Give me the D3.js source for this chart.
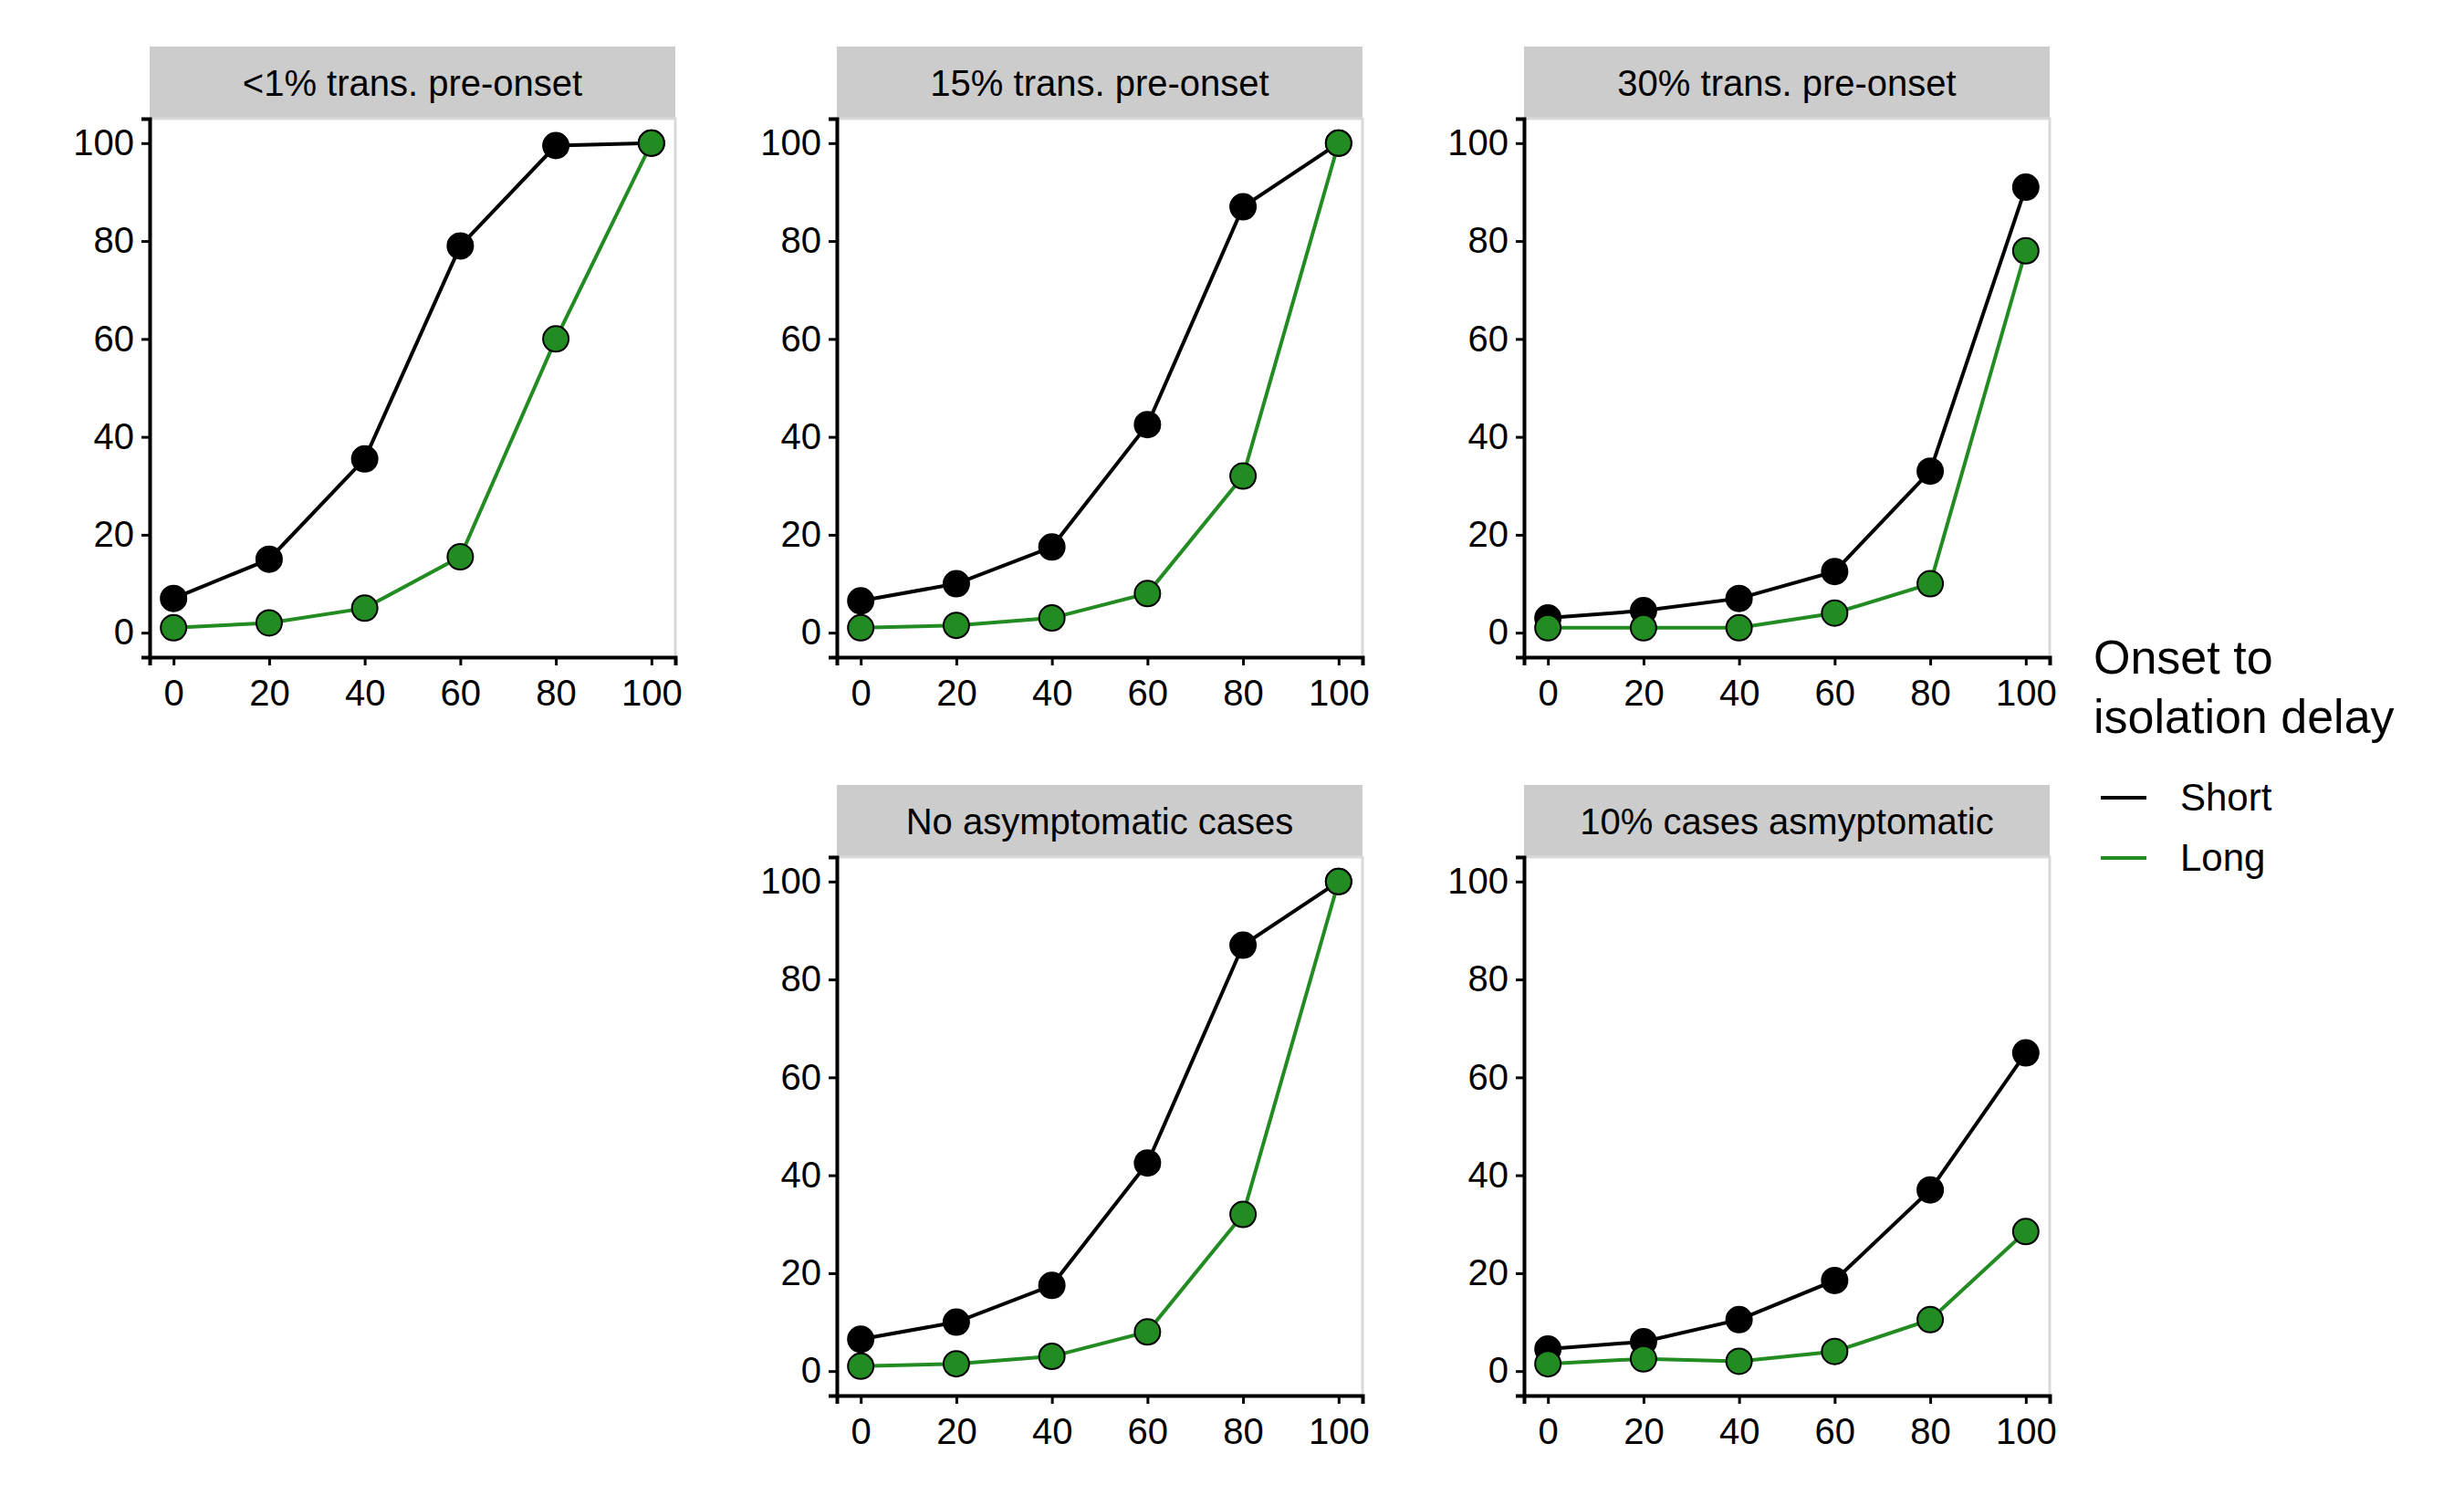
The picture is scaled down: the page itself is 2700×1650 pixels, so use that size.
<!DOCTYPE html><html><head><meta charset="utf-8"><script src="https://cdn.jsdelivr.net/npm/d3@7"></script>
<style>body{margin:0;background:#fff}text{font-family:"Liberation Sans",Arial,sans-serif}</style></head><body>
<svg id="c" width="2700" height="1650"></svg>
<script>
const xVals=[0,20,40,60,80,100];
const ticks=[0,20,40,60,80,100];
const titles=["<1% trans. pre-onset","15% trans. pre-onset","30% trans. pre-onset","No asymptomatic cases","10% cases asmyptomatic"];
const shortVals=[[7,15,35.5,79,99.5,100],[6.5,10,17.5,42.5,87,100],[3,4.5,7,12.5,33,91],[6.5,10,17.5,42.5,87,100],[4.5,6,10.5,18.5,37,65]];
const longVals=[[1,2,5,15.5,60,100],[1,1.5,3,8,32,100],[1,1,1,4,10,78],[1,1.5,3,8,32,100],[1.5,2.5,2,4,10.5,28.5]];
const series=[{name:"Short",color:"#000000",vals:shortVals},{name:"Long",color:"#228B22",vals:longVals}];
const pos=[[164,51],[917,51],[1670,51],[917,860],[1670,860]];
const W=576,SH=79,PH=590;
const svg=d3.select("#c");
titles.forEach((t,i)=>{
  const [px,py]=pos[i];
  const g=svg.append("g").attr("transform",`translate(${px},${py})`);
  g.append("rect").attr("width",W).attr("height",SH).attr("fill","#cccccc");
  g.append("text").attr("x",W/2).attr("y",SH/2+14).attr("text-anchor","middle").attr("font-size",40).text(t);
  const p=g.append("g").attr("transform",`translate(0,${SH})`);
  const x=d3.scaleLinear().domain([-5,105]).range([0,W]);
  const y=d3.scaleLinear().domain([-5,105]).range([PH,0]);
  p.append("rect").attr("width",W).attr("height",PH).attr("fill","#fff").attr("stroke","#d9d9d9").attr("stroke-width",3);
  const ax=p.append("g").attr("transform",`translate(0,${PH})`).call(d3.axisBottom(x).tickValues(ticks).tickSize(9).tickPadding(8));
  const ay=p.append("g").call(d3.axisLeft(y).tickValues(ticks).tickSize(9).tickPadding(8));
  [ax,ay].forEach(a=>{a.selectAll("path").attr("stroke","#000").attr("stroke-width",4);a.selectAll("line").attr("stroke","#000").attr("stroke-width",3);a.selectAll("text").attr("font-size",40).attr("fill","#000").style("font-family","Liberation Sans, Arial, sans-serif");});
  ax.selectAll("text").attr("dy","0.9em");
  series.forEach(s=>{
    const d=s.vals[i].map((v,j)=>[xVals[j],v]);
    p.append("path").datum(d).attr("fill","none").attr("stroke",s.color).attr("stroke-width",4)
      .attr("d",d3.line().x(a=>x(a[0])).y(a=>y(a[1])));
    p.selectAll(null).data(d).enter().append("circle").attr("cx",a=>x(a[0])).attr("cy",a=>y(a[1])).attr("r",14)
      .attr("fill",s.color).attr("stroke","#000").attr("stroke-width",2);
  });
});
const lg=svg.append("g");
lg.append("text").attr("x",2294).attr("y",738).attr("font-size",52).text("Onset to");
lg.append("text").attr("x",2294).attr("y",803).attr("font-size",52).text("isolation delay");
series.forEach((s,i)=>{
  const yy=874+i*66;
  lg.append("line").attr("x1",2302).attr("x2",2352).attr("y1",yy).attr("y2",yy).attr("stroke",s.color).attr("stroke-width",4);
  lg.append("text").attr("x",2389).attr("y",yy+14).attr("font-size",42).text(s.name);
});
</script></body></html>
